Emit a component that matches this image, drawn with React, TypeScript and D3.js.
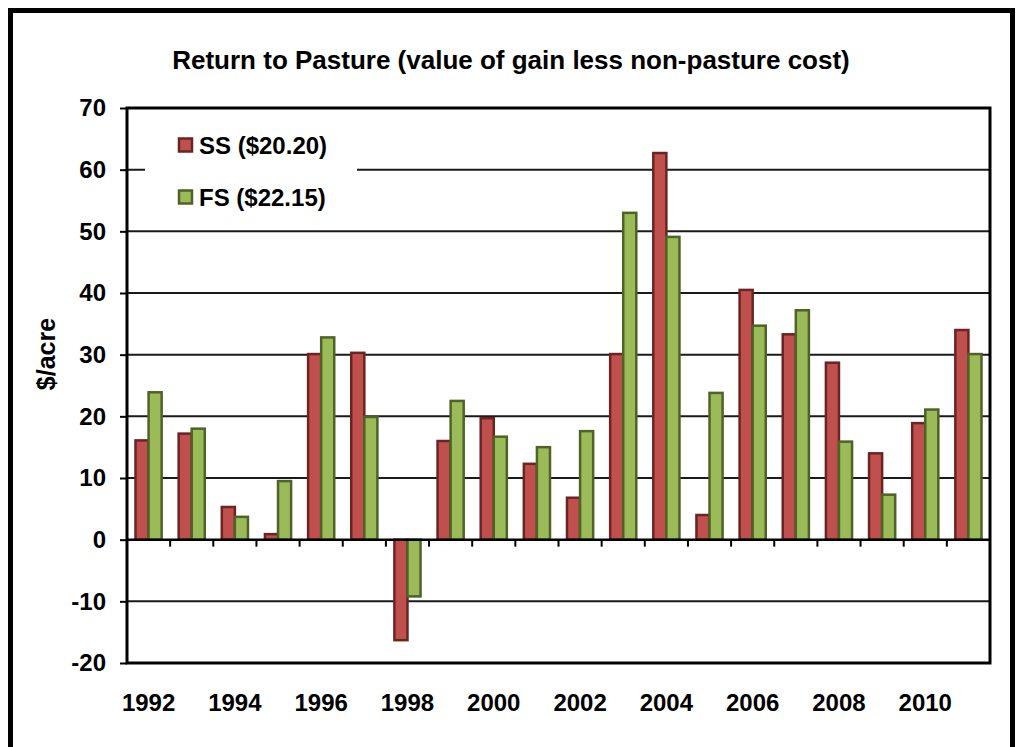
import React, { useEffect, useRef } from 'react';
import * as d3 from 'd3';

// values ($/acre)
const years = ['1992', '1993', '1994', '1995', '1996', '1997', '1998', '1999', '2000', '2001',
  '2002', '2003', '2004', '2005', '2006', '2007', '2008', '2009', '2010', '2011'];
const ssValues = [16.1, 17.2, 5.3, 0.9, 30.1, 30.3, -16.3, 16.0, 19.7, 12.3,
  6.8, 30.1, 62.7, 4.0, 40.5, 33.3, 28.7, 14.0, 18.9, 34.0];
const fsValues = [23.9, 18.0, 3.7, 9.5, 32.8, 19.9, -9.2, 22.5, 16.7, 15.0,
  17.6, 53.0, 49.1, 23.8, 34.7, 37.2, 15.9, 7.3, 21.1, 30.1];
const seriesNames = ['SS ($20.20)', 'FS ($22.15)'];
const yTicks = [-20, -10, 0, 10, 20, 30, 40, 50, 60, 70];

const App = () => {
  const ref = useRef(null);

  useEffect(() => {
    if (!ref.current) return;
    d3.select(ref.current).selectAll('*').remove();

    const W = 1018, H = 747;
    const left = 127, right = 990, top = 108, bottom = 663;
    const font = '"Liberation Sans", Arial, sans-serif';
    const fills = ['#C0504D', '#9BBB59'];
    const strokes = ['#6A2523', '#4F6228'];

    const svg = d3.select(ref.current)
      .append('svg')
      .attr('width', W)
      .attr('height', H)
      .style('display', 'block')
      .style('font-family', font)
      .style('font-weight', 'bold');

    svg.append('rect').attr('width', W).attr('height', H).attr('fill', '#fff');

    // outer frame (bottom edge falls outside the picture)
    svg.append('rect')
      .attr('x', 10.5).attr('y', 10.5)
      .attr('width', 1002).attr('height', 800)
      .attr('fill', 'none').attr('stroke', '#000').attr('stroke-width', 5);

    svg.append('text')
      .attr('x', 511).attr('y', 69)
      .attr('text-anchor', 'middle')
      .style('font-size', '26px')
      .text('Return to Pasture (value of gain less non-pasture cost)');

    const y = d3.scaleLinear().domain([-20, 70]).range([bottom, top]);
    const x = d3.scaleBand()
      .domain(years)
      .range([left, right])
      .paddingInner(0.394)
      .paddingOuter(0.197);
    const x1 = d3.scaleBand().domain(['0', '1']).range([0, x.bandwidth()]);

    // gridlines
    svg.append('g')
      .selectAll('line')
      .data(yTicks.filter(t => t !== 0 && t !== -20 && t !== 70))
      .enter()
      .append('line')
      .attr('x1', left).attr('x2', right)
      .attr('y1', d => y(d)).attr('y2', d => y(d))
      .attr('stroke', '#1a1a1a').attr('stroke-width', 2);

    // y axis
    const yAxis = svg.append('g')
      .attr('transform', `translate(${left},0)`)
      .call(d3.axisLeft(y).tickValues(yTicks).tickFormat(d => String(d))
        .tickSize(7).tickPadding(14).tickSizeOuter(0));
    yAxis.select('.domain').remove();
    yAxis.selectAll('line').attr('stroke', '#000').attr('stroke-width', 2);
    yAxis.selectAll('text')
      .style('font-size', '24px')
      .style('font-family', font)
      .style('font-weight', 'bold')
      .attr('fill', '#000');

    // bars
    const rows = years.map((yr, i) => ({ yr, vals: [ssValues[i], fsValues[i]] }));
    const groups = svg.append('g')
      .selectAll('g')
      .data(rows)
      .enter()
      .append('g')
      .attr('transform', d => `translate(${x(d.yr)},0)`);
    groups.selectAll('rect')
      .data(d => d.vals.map((v, k) => ({ v, k })))
      .enter()
      .append('rect')
      .attr('x', d => x1(String(d.k)))
      .attr('width', x1.bandwidth())
      .attr('y', d => y(Math.max(0, d.v)))
      .attr('height', d => Math.abs(y(d.v) - y(0)))
      .attr('fill', d => fills[d.k])
      .attr('stroke', d => strokes[d.k])
      .attr('stroke-width', 2.5);

    // x axis at zero with ticks on category boundaries
    svg.append('line')
      .attr('x1', left).attr('x2', right)
      .attr('y1', y(0)).attr('y2', y(0))
      .attr('stroke', '#000').attr('stroke-width', 2.5);
    const step = x.step();
    svg.append('g')
      .selectAll('line')
      .data(years.slice(1))
      .enter()
      .append('line')
      .attr('x1', d => x(d) - step * 0.197)
      .attr('x2', d => x(d) - step * 0.197)
      .attr('y1', y(0)).attr('y2', y(0) + 7)
      .attr('stroke', '#000').attr('stroke-width', 2);

    // plot border
    svg.append('rect')
      .attr('x', left).attr('y', top)
      .attr('width', right - left).attr('height', bottom - top)
      .attr('fill', 'none').attr('stroke', '#000').attr('stroke-width', 3);

    // category labels, every other year
    svg.append('g')
      .selectAll('text')
      .data(years.filter((d, i) => i % 2 === 0))
      .enter()
      .append('text')
      .attr('x', d => x(d) + x.bandwidth() / 2)
      .attr('y', 711)
      .attr('text-anchor', 'middle')
      .style('font-size', '24px')
      .text(d => d);

    // y axis title
    svg.append('text')
      .attr('transform', 'translate(55,354) rotate(-90)')
      .attr('text-anchor', 'middle')
      .style('font-size', '25px')
      .text('$/acre');

    // legend
    const legend = svg.append('g');
    legend.append('rect')
      .attr('x', 145).attr('y', 122)
      .attr('width', 212).attr('height', 96)
      .attr('fill', '#fff');
    seriesNames.forEach((name, k) => {
      const cy = 145 + k * 52;
      legend.append('rect')
        .attr('x', 179).attr('y', cy - 6.5)
        .attr('width', 13).attr('height', 13)
        .attr('fill', fills[k]).attr('stroke', strokes[k]).attr('stroke-width', 2.5);
      legend.append('text')
        .attr('x', 199).attr('y', cy + 9)
        .style('font-size', '24px')
        .text(name);
    });
  }, []);

  return <div ref={ref} style={{ position: 'absolute', left: 0, top: 0 }}></div>;
};

export default App;
